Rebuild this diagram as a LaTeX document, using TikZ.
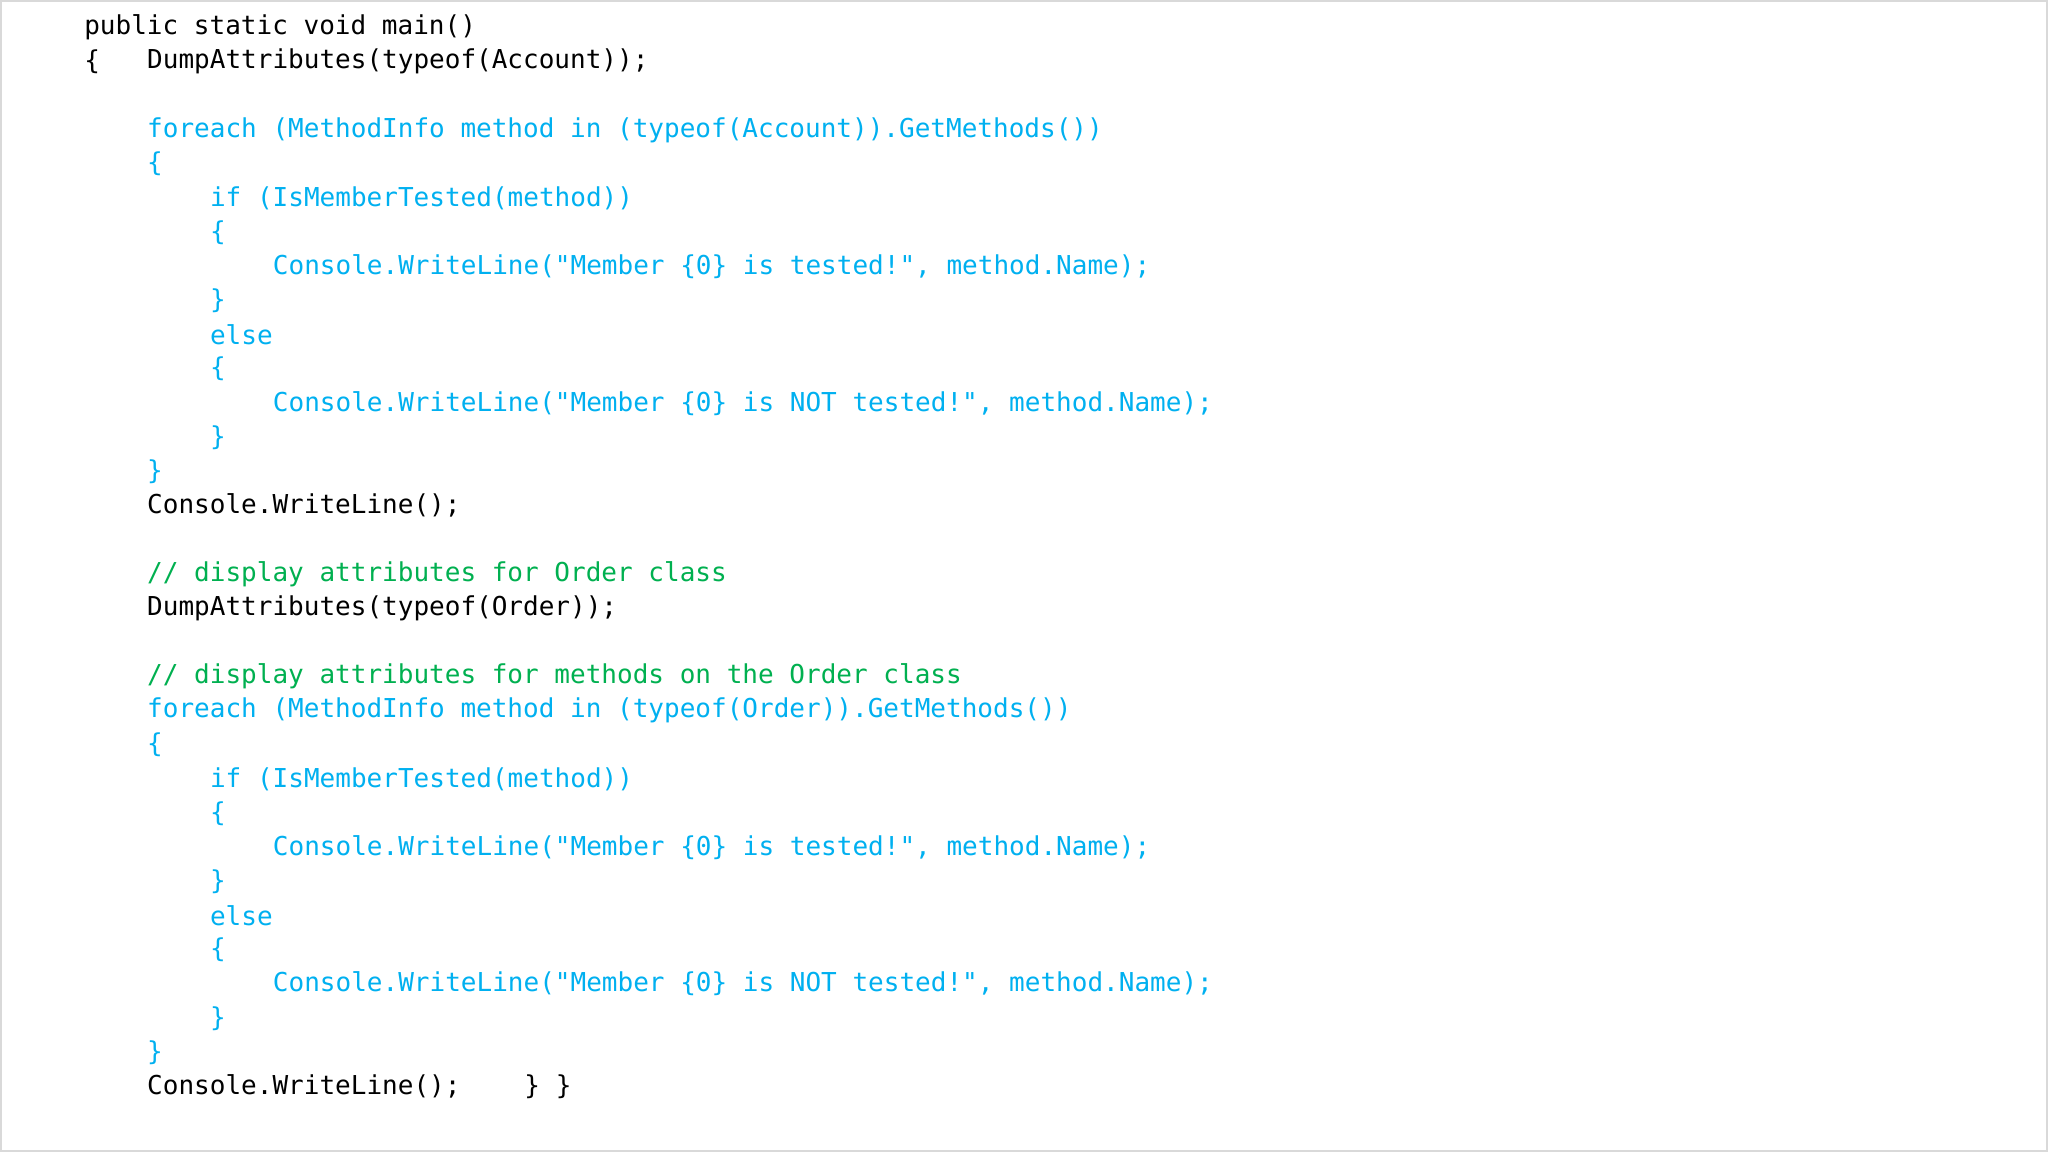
\documentclass[tikz,border=0pt]{standalone}
\usepackage{fontspec}
\setmonofont{DejaVu Sans Mono}
\definecolor{kw}{HTML}{00B0F0}
\definecolor{cm}{HTML}{00B050}
\tikzset{code/.style={anchor=west,inner sep=0pt,font=\ttfamily\fontsize{7.4pt}{9pt}\selectfont}}
\begin{document}
\begin{tikzpicture}[x=0.01cm,y=-0.01cm]
\useasboundingbox (0,0) rectangle (2048,1152);
\fill[white] (0,0) rectangle (2048,1152);
\draw[black!15,line width=0.4pt] (1,1) rectangle (2047,1151);
\def\L#1#2#3#4#5{\node[code,text=#3] (#5) at ({83.6+(#1)*15.72},{27.4+(#2)*34.17}) {#4};}
\L{0}{0}{black}{public static void main()}{l0}
\L{0}{1}{black}{\{}{l1a}
\L{4}{1}{black}{DumpAttributes(typeof(Account));}{l1b}
\foreach \o/\t/\n in {0/Account/a,17/Order/b}{
\L{4}{3+\o}{kw}{foreach (MethodInfo method in (typeof(\t)).GetMethods())}{f\n}
\L{4}{4+\o}{kw}{\{}{o\n}
\L{8}{5+\o}{kw}{if (IsMemberTested(method))}{i\n}
\L{8}{6+\o}{kw}{\{}{p\n}
\L{12}{7+\o}{kw}{Console.WriteLine("Member \{0\} is tested!", method.Name);}{t\n}
\L{8}{8+\o}{kw}{\}}{q\n}
\L{8}{9+\o}{kw}{else}{e\n}
\L{8}{10+\o}{kw}{\{}{r\n}
\L{12}{11+\o}{kw}{Console.WriteLine("Member \{0\} is NOT tested!", method.Name);}{u\n}
\L{8}{12+\o}{kw}{\}}{s\n}
\L{4}{13+\o}{kw}{\}}{c\n}
}
\L{4}{14}{black}{Console.WriteLine();}{l14}
\L{4}{16}{cm}{// display attributes for Order class}{l16}
\L{4}{17}{black}{DumpAttributes(typeof(Order));}{l17}
\L{4}{19}{cm}{// display attributes for methods on the Order class}{l19}
\L{4}{31}{black}{Console.WriteLine();}{l31a}
\L{28}{31}{black}{\} \}}{l31b}
\end{tikzpicture}
\end{document}
